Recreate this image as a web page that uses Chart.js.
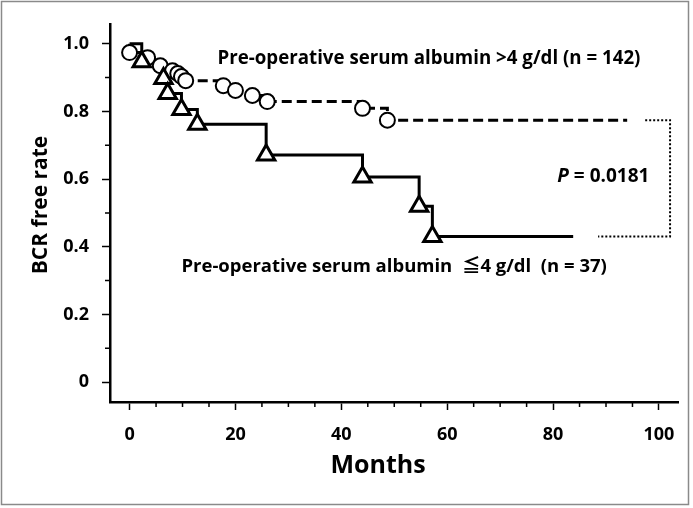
<!DOCTYPE html>
<html>
<head>
<meta charset="utf-8">
<script src="https://cdn.jsdelivr.net/npm/chart.js"></script>
<style>
  html, body { margin: 0; padding: 0; background: #fff; }
  canvas { display: block; }
</style>
</head>
<body>
<canvas id="chart-bcr" width="693" height="508"></canvas>
<script>
// data (months, BCR free rate)
const hiMonths = [0, 3.4, 5.8, 8.1, 9.1, 9.8, 10.6, 17.7, 20, 23.2, 26, 44, 48.7];
const hiRate = [0.974, 0.959, 0.935, 0.92, 0.912, 0.903, 0.891, 0.876, 0.862, 0.847, 0.829, 0.809, 0.774];
const hiLastFollowUp = 94;

const loMonths = [2.3, 6.4, 7.2, 9.8, 12.8, 25.8, 44, 54.7, 57.2];
const loRate = [0.947, 0.897, 0.853, 0.806, 0.762, 0.671, 0.606, 0.52, 0.43];
const loLastFollowUp = 83.8;

const xTicks = [0, 20, 40, 60, 80, 100];
const yTicks = [0, 0.2, 0.4, 0.6, 0.8, 1.0];
const xMinorTicks = [5, 10, 15, 25, 30, 35, 45, 50, 55, 65, 70, 75, 85, 90, 95];
const yMinorTicks = [0.1, 0.3, 0.5, 0.7, 0.9];

// dotted bracket next to the p value
const bracketX = [97.4, 102.1, 102.1, 88.5];
const bracketY = [0.774, 0.774, 0.43, 0.43];

const hiLabel = "Pre-operative serum albumin >4 g/dl (n = 142)";
const loLabel = "Pre-operative serum albumin  \u22664 g/dl  (n = 37)";
const pValue = "0.0181";

var FONT = "'Open Sans', 'Noto Sans CJK JP', sans-serif";

function kmSteps(months, rate, lastFollowUp) {
  let pts = [{ x: 0, y: 1 }];
  months.forEach((m, i) => pts.push({ x: m, y: rate[i] }));
  pts.push({ x: lastFollowUp, y: rate[rate.length - 1] });
  return pts;
}

function markers(months, rate) {
  return months.map((m, i) => ({ x: m, y: rate[i] }));
}

// minor ticks, annotation text, frame
const extrasPlugin = {
  id: "extras",
  afterDatasetsDraw(chart) {
    const ctx = chart.ctx;
    const xs = chart.scales.x, ys = chart.scales.y;
    const area = chart.chartArea;
    ctx.save();
    ctx.strokeStyle = "#000";
    ctx.lineWidth = 1.5;
    ctx.beginPath();
    yMinorTicks.forEach(v => {
      let py = ys.getPixelForValue(v);
      ctx.moveTo(area.left - 5, py);
      ctx.lineTo(area.left, py);
    });
    xMinorTicks.forEach(v => {
      let px = xs.getPixelForValue(v);
      ctx.moveTo(px, area.bottom);
      ctx.lineTo(px, area.bottom + 5);
    });
    ctx.stroke();

    ctx.fillStyle = "#000";
    ctx.textBaseline = "alphabetic";
    ctx.textAlign = "left";
    ctx.font = "bold 19px " + FONT;
    ctx.fillText(hiLabel, xs.getPixelForValue(16.6), ys.getPixelForValue(0.941), 423);
    ctx.font = "bold 18.5px " + FONT;
    ctx.fillText(loLabel, xs.getPixelForValue(9.8), ys.getPixelForValue(0.324), 430);

    // P = 0.0181
    let px = xs.getPixelForValue(80.8), py = ys.getPixelForValue(0.591);
    ctx.font = "italic bold 19px " + FONT;
    ctx.fillText("P", px, py);
    let pw = ctx.measureText("P").width;
    ctx.font = "bold 19px " + FONT;
    ctx.fillText(" = " + pValue, px + pw, py, 96 - pw);

    // axis titles
    ctx.textAlign = "center";
    ctx.textBaseline = "middle";
    ctx.font = "bold 25px " + FONT;
    ctx.fillText("Months", 378, 466);
    ctx.translate(41, 205);
    ctx.rotate(-Math.PI / 2);
    ctx.font = "bold 21px " + FONT;
    ctx.fillText("BCR free rate", 0, 0);
    ctx.restore();
  },
  afterDraw(chart) {
    const ctx = chart.ctx;
    ctx.save();
    ctx.strokeStyle = "#8a8a8a";
    ctx.lineWidth = 1.5;
    ctx.strokeRect(1.5, 1.5, 687, 503);
    ctx.restore();
  }
};

var ctx = document.getElementById("chart-bcr").getContext("2d");
var chart = new Chart(ctx, {
  type: "line",
  data: {
    datasets: [
      {
        label: "albumin <= 4 markers",
        data: markers(loMonths, loRate),
        showLine: false,
        pointStyle: "triangle",
        pointRadius: 10,
        pointBorderWidth: 3,
        pointBorderColor: "#000",
        pointBackgroundColor: "#fff",
        order: 0
      },
      {
        label: "albumin > 4 markers",
        data: markers(hiMonths, hiRate),
        showLine: false,
        pointStyle: "circle",
        pointRadius: 7.5,
        pointBorderWidth: 2,
        pointBorderColor: "#000",
        pointBackgroundColor: "#fff",
        order: 1
      },
      {
        label: "albumin <= 4",
        data: kmSteps(loMonths, loRate, loLastFollowUp),
        stepped: "before",
        borderColor: "#000",
        borderWidth: 3,
        pointRadius: 0,
        order: 2
      },
      {
        label: "albumin > 4",
        data: kmSteps(hiMonths, hiRate, hiLastFollowUp),
        stepped: "before",
        borderColor: "#000",
        borderWidth: 3,
        borderDash: [10, 5],
        pointRadius: 0,
        order: 3
      },
      {
        label: "bracket",
        data: bracketX.map((x, i) => ({ x: x, y: bracketY[i] })),
        borderColor: "#000",
        borderWidth: 2,
        borderDash: [2, 2],
        pointRadius: 0,
        tension: 0,
        order: 4
      }
    ]
  },
  options: {
    responsive: false,
    animation: false,
    events: [],
    layout: { padding: { top: 23, right: 15, left: 0, bottom: 0 } },
    scales: {
      x: {
        type: "linear",
        min: -3.7,
        max: 103.6,
        afterBuildTicks: scale => { scale.ticks = xTicks.map(v => ({ value: v })); },
        afterFit: scale => { scale.height = 106; },
        grid: {
          display: true,
          drawOnChartArea: false,
          drawTicks: true,
          tickLength: 8,
          tickWidth: 1.5,
          tickColor: "#000"
        },
        border: { display: true, color: "#000", width: 2.5 },
        ticks: {
          padding: 14,
          color: "#000",
          maxRotation: 0,
          font: { family: FONT, size: 18, weight: "bold" },
          callback: v => String(v)
        }
      },
      y: {
        type: "linear",
        min: -0.059,
        max: 1.059,
        afterBuildTicks: scale => { scale.ticks = yTicks.map(v => ({ value: v })); },
        afterFit: scale => { scale.width = 110; },
        grid: {
          display: true,
          drawOnChartArea: false,
          drawTicks: true,
          tickLength: 8,
          tickWidth: 1.5,
          tickColor: "#000"
        },
        border: { display: true, color: "#000", width: 2.5 },
        ticks: {
          padding: 13,
          color: "#000",
          font: { family: FONT, size: 18, weight: "bold" },
          callback: v => (v === 0 ? "0" : v.toFixed(1))
        }
      }
    },
    plugins: {
      legend: { display: false },
      tooltip: { enabled: false }
    }
  },
  plugins: [extrasPlugin]
});
</script>
</body>
</html>
